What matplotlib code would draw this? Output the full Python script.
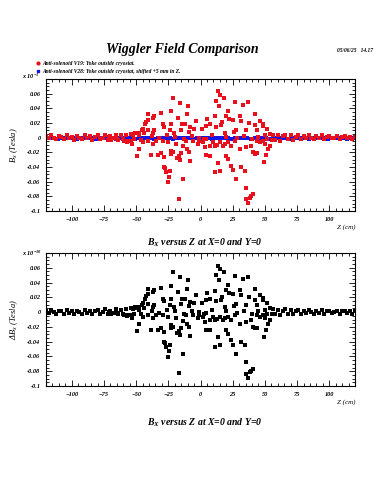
import matplotlib.pyplot as plt
import numpy as np
from matplotlib.lines import Line2D
from matplotlib.ticker import MultipleLocator, FixedLocator

plt.rcParams.update({"font.family": "Liberation Serif", "font.weight": "bold",
                     "font.style": "italic", "mathtext.default": "regular"})

# V19 (red) - scattered points in the wiggler region, z in cm, Bx in Tesla
z_v19_mid = [-21.6, -15.6, -9.9, 13.5, 15.4, 18.0, 12.2, 14.1, 27.1, 33.1, 37.0, -17.7, -10.7, -11.7,
             -30.7, -35.9, -41.1, -37.2, -40.6, -43.2, -42.4, -29.4, -28.1, -14.3, -23.2, 21.4, 20.1,
             22.1, 30.5, 31.8, 42.2, 37.5, 46.1, 48.7, 48.7, 51.3, 25.3, 16.2, 5.2, 10.9, 3.9, -3.4,
             1.3, -4.7, 27.9, 25.8, 16.7, 12.2, 42.2, 43.5, 35.7, 18.8, -8.6, -15.1, -20.3, -23.4,
             -37.2, -35.9, -47.6, -45.0, -45.6, -50.8, -52.3, -41.1, -22.9, -8.1, 7.0,
             -49.7, -38.5, -33.3, -30.7, -28.1, -22.9, -21.6, -22.9, -18.5, -16.4, -15.1, -8.6, -10.7,
             -13.8, -15.9, -8.1, -28.1, -27.3, -26.8, -23.7, -24.2, -25.5, -13.8, -16.4, 3.9, 7.0,
             3.1, 10.9, 12.8, 9.6, 1.8, -0.8, -2.1, 14.9, 18.8, 20.1, 21.4, 13.5, 10.9, 14.9, 24.0,
             25.3, 31.8, 34.4, 27.9, 35.7, 40.9, 39.6, 38.3, 35.7, 36.5, 42.2, 43.5, 40.9, 49.2, 50.8,
             52.6, 53.9, 50.0, 48.7, 55.2, 46.1, 43.5, 39.6, 35.7, 30.5, 26.6, 24.0, 21.4, 17.5, 7.0,
             4.4, -6.0, -11.2, -19.0, -25.5, -29.4, -34.6, -37.2, -41.1, -45.0, -52.9, -47.6, -54.2,
             -56.8, -59.4, -64.6, -69.8, -71.1,
             -38.0, -32.0, -26.0, -19.5, -12.5, -6.5, -1.5, 2.5, 9.0, 19.5, 28.5, 33.5, 40.0, 45.0]
bx_v19_mid = [0.054, 0.047, 0.043, 0.063, 0.058, 0.054, 0.050, 0.043, 0.049, 0.045, 0.048, 0.027,
              0.032, 0.018, 0.033, 0.030, 0.032, 0.027, 0.024, 0.018, 0.022, 0.018, 0.015, 0.018,
              0.036, 0.037, 0.030, 0.026, 0.030, 0.023, 0.032, 0.020, 0.023, 0.019, 0.016, 0.012,
              0.024, 0.017, 0.026, 0.029, 0.016, 0.023, 0.012, 0.012, 0.011, 0.008, 0.021, 0.015,
              0.017, 0.010, 0.010, 0.007, 0.008, 0.011, 0.007, 0.010, 0.007, 0.010, 0.0065, 0.012,
              0.010, 0.0065, 0.004, 0.011, 0.018, 0.014, 0.018,
              -0.0255, -0.024, -0.024, -0.021, -0.027, -0.018, -0.020, -0.022, -0.028, -0.0255,
              -0.021, -0.020, -0.016, -0.012, -0.031, -0.032, -0.0405, -0.042, -0.047, -0.045,
              -0.053, -0.061, -0.056, -0.083, -0.024, -0.0245, -0.013, -0.011, -0.0095, -0.006,
              -0.006, -0.004, -0.0085, -0.006, -0.0085, -0.0245, -0.029, -0.034, -0.047, -0.045,
              -0.038, -0.044, -0.0405, -0.045, -0.0565, -0.068, -0.077, -0.079, -0.0816, -0.084,
              -0.0885, -0.022, -0.021, -0.020, -0.033, -0.024, -0.0155, -0.011, -0.0085, -0.004,
              -0.0026, -0.006, -0.004, -0.011, -0.013, -0.0155, -0.004, -0.011, -0.006, -0.011,
              -0.011, -0.0017, -0.004, -0.004, -0.0085, -0.006, -0.004, -0.004, -0.0085, -0.004,
              -0.006, -0.0085, -0.0155, -0.004, -0.0053, -0.004, -0.0017, -0.0026, 0.0006,
              0.002, -0.001, 0.003, 0.001, -0.002, 0.002, 0.000, -0.002, 0.003, 0.001, -0.001,
              0.002, -0.002, 0.001]

# V19 (red) - dense band near zero outside the wiggler, every 2 cm
z_v19_left = np.arange(-120, -43, 2)
bx_v19_left = [0.002, -0.001, 0.003, 0.000, -0.002, 0.002, 0.001, -0.002, 0.003, -0.001, 0.001,
               -0.003, 0.002, 0.000, -0.002, 0.003, -0.001, 0.002, -0.003, 0.001, 0.003, -0.002,
               0.000, 0.004, -0.003, 0.002, -0.001, 0.004, -0.003, 0.003, -0.002, 0.004, -0.004,
               0.005, -0.002, 0.006, 0.003, -0.003, 0.006]
z_v19_right = np.arange(50, 121, 2)
bx_v19_right = [0.003, -0.002, 0.005,
                0.004, -0.003, 0.003, -0.004, 0.002, 0.004, -0.002, 0.003, -0.003, 0.001, 0.003,
                -0.002, 0.002, -0.001, 0.003, 0.000, -0.002, 0.002, -0.001, 0.003, -0.002, 0.001,
                0.002, -0.001, 0.000, 0.002, -0.002, 0.001, 0.002, -0.001, 0.001, -0.002, 0.001]

# V28 (blue) - flat band, every 3 cm
z_v28 = np.arange(-120, 121, 3)
bx_v28 = [-0.001, 0.000, -0.001, -0.002, -0.001, 0.000, -0.001, -0.001, -0.002, 0.000, -0.001,
          -0.001, 0.000, -0.002, -0.001, -0.001, 0.000, -0.001, -0.002, -0.001, 0.000, -0.001,
          -0.001, -0.002, 0.000, -0.001, -0.001, 0.000, -0.002, -0.001, -0.001, 0.000, -0.001,
          -0.002, -0.001, 0.000, -0.001, -0.001, -0.002, 0.000, -0.001, -0.001, 0.000, -0.002,
          -0.001, -0.001, 0.000, -0.001, -0.002, -0.001, 0.000, -0.001, -0.001, -0.002, 0.000,
          -0.001, -0.001, 0.000, -0.002, -0.001, -0.001, 0.000, -0.001, -0.002, -0.001, 0.000,
          -0.001, -0.001, -0.002, 0.000, -0.001, -0.001, 0.000, -0.002, -0.001, -0.001, 0.000,
          -0.001, -0.002, -0.001, 0.000]

z_v19 = np.concatenate([z_v19_left, z_v19_mid, z_v19_right])
bx_v19 = np.concatenate([bx_v19_left, bx_v19_mid, bx_v19_right])
delta_bx = bx_v19 - np.mean(bx_v28) - 0.001

x_ticks = [-100, -75, -50, -25, 0, 25, 50, 75, 100]
y_ticks = [-0.1, -0.08, -0.06, -0.04, -0.02, 0, 0.02, 0.04, 0.06]
y_ticklabels = ["-0.1", "-0.08", "-0.06", "-0.04", "-0.02", "0", "0.02", "0.04", "0.06"]

red = "#e8101c"
blue = "#1414e6"

fig = plt.figure(figsize=(3.75, 5), dpi=100)
ax1 = fig.add_axes([0.1227, 0.578, 0.824, 0.264])
ax2 = fig.add_axes([0.1227, 0.228, 0.824, 0.266])

ax1.plot(z_v28, bx_v28, "s", color=blue, ms=3.4, mew=0)
ax1.plot(z_v19, bx_v19, "s", color=red, ms=2.9, mew=0)
ax2.plot(z_v19, delta_bx, "s", color="black", ms=2.7, mew=0)

for ax in (ax1, ax2):
    ax.set_xlim(-120, 120)
    ax.set_ylim(-0.1, 0.08)
    ax.xaxis.set_major_locator(FixedLocator(x_ticks))
    ax.xaxis.set_minor_locator(MultipleLocator(5))
    ax.yaxis.set_major_locator(FixedLocator(y_ticks))
    ax.yaxis.set_minor_locator(MultipleLocator(0.005))
    ax.set_yticklabels(y_ticklabels)
    ax.tick_params(which="both", direction="in", top=True, right=True, labelsize=4.5, width=0.6, pad=4)
    ax.tick_params(which="major", length=4)
    ax.tick_params(which="minor", length=2)
    for s in ax.spines.values():
        s.set_linewidth(0.8)
    ax.set_xlabel("Z (cm)", fontsize=5, loc="right", labelpad=2)

ax1.set_ylabel("B$_x$ (Tesla)", fontsize=6, labelpad=5)
ax2.set_ylabel("ΔB$_x$ (Tesla)", fontsize=6, labelpad=5)

fig.text(0.485, 0.9, "Wiggler Field Comparison", ha="center", va="center", fontsize=10)
fig.text(0.995, 0.9, "05/06/25   14.17", ha="right", va="center", fontsize=4)
fig.text(0.545, 0.514, "B$_X$ versus Z at X=0 and Y=0", ha="center", va="center", fontsize=7)
fig.text(0.545, 0.154, "B$_X$ versus Z at X=0 and Y=0", ha="center", va="center", fontsize=7)
fig.text(0.06, 0.847, "x 10$^{-1}$", fontsize=4.5, va="center")
fig.text(0.06, 0.494, "x 10$^{-10}$", fontsize=4.5, va="center")

# legend entries
fig.add_artist(Line2D([0.1], [0.874], marker="o", color=red, ms=2, transform=fig.transFigure))
fig.add_artist(Line2D([0.1], [0.858], marker="s", color=blue, ms=2, transform=fig.transFigure))
fig.text(0.112, 0.874, "Anti-solenoid V19: Yoke outside cryostat.", fontsize=4, va="center")
fig.text(0.112, 0.858, "Anti-solenoid V28: Yoke outside cryostat, shifted +5 mm in Z.", fontsize=4, va="center")

plt.savefig("out.png")
